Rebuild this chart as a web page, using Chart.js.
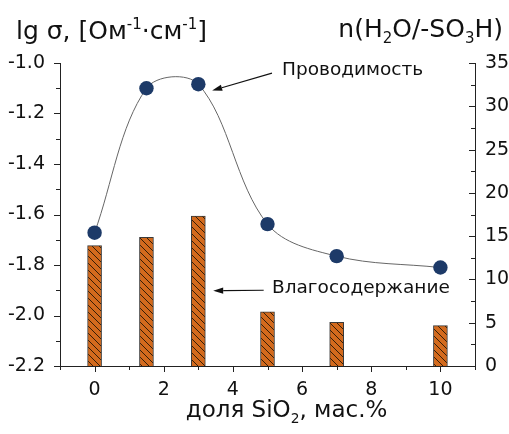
<!DOCTYPE html>
<html><head><meta charset="utf-8">
<script src="https://cdn.jsdelivr.net/npm/chart.js@4.4.0/dist/chart.umd.min.js"></script>
<style>html,body{margin:0;padding:0;background:#fff;}#wrap{width:509px;height:434px;position:relative;}</style>
</head><body><div id="wrap"><canvas id="c" width="509" height="434"></canvas></div>
<script>
// ---- data ----
const sio2 = [0, 1.5, 3, 5, 7, 10];
const lgSigma = [-1.672, -1.100, -1.084, -1.638, -1.765, -1.81];
const waterUptake = [13.9, 14.87, 17.33, 6.27, 5.04, 4.66];
const xTicks = [0, 2, 4, 6, 8, 10];
const xMinorTicks = [-1, 1, 3, 5, 7, 9, 11];
const leftTicks = [-2.2, -2.0, -1.8, -1.6, -1.4, -1.2, -1.0];
const leftMinorTicks = [-2.1, -1.9, -1.7, -1.5, -1.3, -1.1];
const rightTicks = [0, 5, 10, 15, 20, 25, 30, 35];
const rightMinorTicks = [2.5, 7.5, 12.5, 17.5, 22.5, 27.5, 32.5];
const labelConductivity = 'Проводимость';
const labelWater = 'Влагосодержание';

const FONT = "'DejaVu Sans', sans-serif";

function hatchPattern() {
  const s = 7;
  const p = document.createElement('canvas');
  p.width = s; p.height = s;
  const g = p.getContext('2d');
  g.fillStyle = '#d36a1d';
  g.fillRect(0, 0, s, s);
  g.strokeStyle = 'rgba(45,25,5,0.95)';
  g.lineWidth = 1;
  g.beginPath();
  g.moveTo(-1, -1); g.lineTo(s + 1, s + 1);
  g.moveTo(-1, s - 1); g.lineTo(1, s + 1);
  g.moveTo(s - 1, -1); g.lineTo(s + 1, 1);
  g.stroke();
  return document.getElementById('c').getContext('2d').createPattern(p, 'repeat');
}

function rich(ctx, parts, x, y, size, align) {
  const widths = parts.map(([t, m]) => {
    ctx.font = (m ? size * 0.6 : size) + 'px ' + FONT;
    return ctx.measureText(t).width;
  });
  const total = widths.reduce((a, b) => a + b, 0);
  let cx = align === 'right' ? x - total : align === 'center' ? x - total / 2 : x;
  ctx.textAlign = 'left';
  ctx.textBaseline = 'alphabetic';
  parts.forEach(([t, m], i) => {
    ctx.font = (m ? size * 0.6 : size) + 'px ' + FONT;
    const dy = m === 1 ? -size * 0.4 : m === -1 ? size * 0.25 : 0;
    ctx.fillText(t, cx, y + dy);
    cx += widths[i];
  });
}

const decor = {
  id: 'decor',
  afterDraw(chart) {
    const ctx = chart.ctx;
    const a = chart.chartArea;
    const sx = chart.scales.x, sl = chart.scales.yL, sr = chart.scales.yR;
    ctx.save();
    ctx.strokeStyle = '#222';
    ctx.lineWidth = 1;
    // axis lines
    ctx.beginPath();
    ctx.moveTo(a.left + 0.5, a.top); ctx.lineTo(a.left + 0.5, a.bottom + 0.5);
    ctx.lineTo(a.right + 0.5, a.bottom + 0.5); ctx.lineTo(a.right + 0.5, a.top);
    ctx.stroke();
    // ticks
    ctx.beginPath();
    xTicks.forEach(v => { const p = Math.round(sx.getPixelForValue(v)) + 0.5; ctx.moveTo(p, a.bottom); ctx.lineTo(p, a.bottom + 6); });
    xMinorTicks.forEach(v => { const p = Math.round(sx.getPixelForValue(v)) + 0.5; ctx.moveTo(p, a.bottom); ctx.lineTo(p, a.bottom + 4); });
    leftTicks.forEach(v => { const p = Math.round(sl.getPixelForValue(v)) + 0.5; ctx.moveTo(a.left, p); ctx.lineTo(a.left - 6, p); });
    leftMinorTicks.forEach(v => { const p = Math.round(sl.getPixelForValue(v)) + 0.5; ctx.moveTo(a.left, p); ctx.lineTo(a.left - 4, p); });
    rightTicks.forEach(v => { const p = Math.round(sr.getPixelForValue(v)) + 0.5; ctx.moveTo(a.right, p); ctx.lineTo(a.right - 6, p); });
    rightMinorTicks.forEach(v => { const p = Math.round(sr.getPixelForValue(v)) + 0.5; ctx.moveTo(a.right, p); ctx.lineTo(a.right - 4, p); });
    ctx.stroke();

    // titles
    ctx.fillStyle = '#111';
    rich(ctx, [['lg σ, [Ом', 0], ['-1', 1], ['·см', 0], ['-1', 1], [']', 0]], 16, 39, 25, 'left');
    rich(ctx, [['n(H', 0], ['2', -1], ['O/-SO', 0], ['3', -1], ['H)', 0]], 503, 37, 25, 'right');
    rich(ctx, [['доля SiO', 0], ['2', -1], [', мас.%', 0]], sx.getPixelForValue(5.55), 417, 23, 'center');

    // annotations
    ctx.font = '18.5px ' + FONT;
    ctx.textAlign = 'left';
    ctx.textBaseline = 'alphabetic';
    ctx.fillText(labelConductivity, sx.getPixelForValue(5.42), sl.getPixelForValue(-1.046));
    ctx.fillText(labelWater, sx.getPixelForValue(5.13), sr.getPixelForValue(8.4));

    function arrow(x1, y1, x2, y2) {
      ctx.strokeStyle = '#111';
      ctx.fillStyle = '#111';
      ctx.lineWidth = 1.2;
      const ang = Math.atan2(y2 - y1, x2 - x1);
      const L = 10, W = 3.2;
      const bx = x2 - L * Math.cos(ang), by = y2 - L * Math.sin(ang);
      ctx.beginPath(); ctx.moveTo(x1, y1); ctx.lineTo(bx, by); ctx.stroke();
      ctx.beginPath();
      ctx.moveTo(x2, y2);
      ctx.lineTo(bx + W * Math.sin(ang), by - W * Math.cos(ang));
      ctx.lineTo(bx - W * Math.sin(ang), by + W * Math.cos(ang));
      ctx.closePath(); ctx.fill();
    }
    arrow(sx.getPixelForValue(5.13), sl.getPixelForValue(-1.04), sx.getPixelForValue(3.4), sl.getPixelForValue(-1.109));
    arrow(sx.getPixelForValue(4.89), sr.getPixelForValue(8.75), sx.getPixelForValue(3.43), sr.getPixelForValue(8.7));
    ctx.restore();
  }
};

const ctx = document.getElementById('c').getContext('2d');
new Chart(ctx, {
  type: 'bar',
  data: {
    datasets: [
      {
        type: 'line',
        label: 'lg σ',
        data: sio2.map((x, i) => ({ x, y: lgSigma[i] })),
        yAxisID: 'yL',
        xAxisID: 'x',
        borderColor: '#666666',
        borderWidth: 1,
        tension: 0.35,
        pointRadius: 7.2,
        pointBackgroundColor: '#1d3a68',
        pointBorderWidth: 0,
        fill: false,
        order: 0
      },
      {
        type: 'bar',
        label: 'n',
        data: sio2.map((x, i) => ({ x, y: waterUptake[i] })),
        yAxisID: 'yR',
        xAxisID: 'x',
        backgroundColor: hatchPattern(),
        borderColor: '#3a3a3a',
        borderWidth: 1,
        borderSkipped: 'bottom',
        barThickness: 14,
        order: 1
      }
    ]
  },
  options: {
    responsive: false,
    animation: false,
    devicePixelRatio: 1,
    layout: { padding: { top: 63, left: 0, right: 0, bottom: 0 } },
    plugins: { legend: { display: false }, tooltip: { enabled: false } },
    scales: {
      x: {
        type: 'linear', position: 'bottom', min: -1, max: 11, offset: false,
        afterBuildTicks: s => { s.ticks = xTicks.map(v => ({ value: v })); },
        afterFit: s => { s.height = 68; },
        grid: { display: false, offset: false }, border: { display: false },
        ticks: { font: { family: FONT, size: 19 }, color: '#111', padding: 5, maxRotation: 0 }
      },
      yL: {
        type: 'linear', position: 'left', min: -2.2, max: -1.0,
        afterBuildTicks: s => { s.ticks = leftTicks.map(v => ({ value: v })); },
        afterFit: s => { s.width = 60; },
        grid: { display: false }, border: { display: false },
        ticks: { font: { family: FONT, size: 19 }, color: '#111', padding: 7, callback: v => v.toFixed(1) }
      },
      yR: {
        type: 'linear', position: 'right', min: 0, max: 35,
        afterBuildTicks: s => { s.ticks = rightTicks.map(v => ({ value: v })); },
        afterFit: s => { s.width = 34; },
        grid: { display: false }, border: { display: false },
        ticks: { font: { family: FONT, size: 19 }, color: '#111', padding: 2 }
      }
    }
  },
  plugins: [decor]
});
</script></body></html>
